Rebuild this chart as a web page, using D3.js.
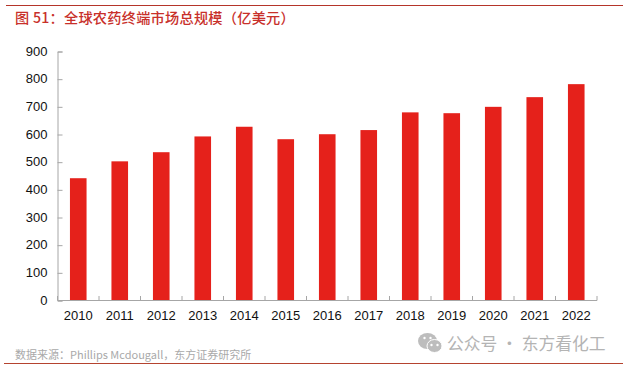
<!DOCTYPE html>
<html><head><meta charset="utf-8">
<script src="https://cdn.jsdelivr.net/npm/d3@7/dist/d3.min.js"></script>
<style>html,body{margin:0;padding:0;background:#fff}svg{display:block}</style></head>
<body><svg id="c" width="623" height="367"></svg>
<script>
const categories=["2010","2011","2012","2013","2014","2015","2016","2017","2018","2019","2020","2021","2022"];
const values=[442,503,536,593,628,583,601,616,680,677,700,735,782];
const yTicks=[0,100,200,300,400,500,600,700,800,900];
const titleText="图 51：全球农药终端市场总规模（亿美元）";
const sourceText="数据来源：Phillips Mcdougall，东方证券研究所";
const watermarkText="公众号 · 东方看化工";
const svg=d3.select("#c");
const cjk='"Noto Sans CJK SC","Noto Sans",sans-serif';
const latin='"Liberation Sans",Arial,sans-serif';
const x=d3.scaleBand().domain(categories).range([57.5,597]).paddingInner(0.6).paddingOuter(0.3);
const y=d3.scaleLinear().domain([0,900]).range([300.5,51.5]);
svg.append("rect").attr("width",623).attr("height",367).attr("fill","#fff");
svg.append("line").attr("x1",6).attr("x2",623).attr("y1",5.5).attr("y2",5.5).attr("stroke","#b5352a").attr("stroke-width",1);
svg.append("text").attr("x",15).attr("y",22.5).attr("font-family",cjk).attr("font-size",14.2).attr("font-weight",500).attr("letter-spacing",0.25).attr("fill","#c8302a").text(titleText);
svg.selectAll("rect.bar").data(values).join("rect").attr("class","bar")
 .attr("x",(d,i)=>x(categories[i])).attr("width",x.bandwidth())
 .attr("y",d=>y(d)).attr("height",d=>y(0)-y(d)).attr("fill","#e5211b");
const ya=d3.axisLeft(y).tickValues(yTicks).tickSize(-5).tickPadding(10);
const gy=svg.append("g").attr("transform","translate(57.5,0)").call(ya);
const xEdges=d3.range(categories.length+1).map(i=>57.5+i*x.step());
const gx=svg.append("g");
gx.append("line").attr("x1",57.5).attr("x2",597).attr("y1",300.5).attr("y2",300.5).attr("stroke","#a6a6a6");
gx.selectAll("line.t").data(xEdges).join("line").attr("class","t").attr("x1",d=>d).attr("x2",d=>d).attr("y1",296).attr("y2",300.5).attr("stroke","#a6a6a6");
gx.selectAll("text").data(categories).join("text").attr("x",d=>x(d)+x.bandwidth()/2).attr("y",320).attr("text-anchor","middle").attr("font-family",latin).attr("font-size",13).attr("fill","#111").text(d=>d);
gy.select(".domain").attr("stroke","#a6a6a6");
gy.selectAll(".tick line").attr("stroke","#a6a6a6");
gy.selectAll(".tick text").attr("font-family",latin).attr("font-size",13).attr("fill","#111").attr("dy","0.27em");
svg.append("text").attr("x",15).attr("y",359).attr("font-family",cjk).attr("font-size",11).attr("fill","#a9a9a9").text(sourceText);
svg.append("line").attr("x1",4).attr("x2",623).attr("y1",363.5).attr("y2",363.5).attr("stroke","#b5432f").attr("stroke-width",1);
const wm=svg.append("g").attr("fill","#bdbdbd");
wm.append("ellipse").attr("cx",427.5).attr("cy",341).attr("rx",9.5).attr("ry",8);
wm.append("ellipse").attr("cx",434.5).attr("cy",346).attr("rx",7.5).attr("ry",6.5).attr("stroke","#fff").attr("stroke-width",1);
wm.selectAll("circle.e").data([[424.5,338],[430.5,338],[431.5,345],[437.5,345]]).join("circle").attr("class","e").attr("cx",d=>d[0]).attr("cy",d=>d[1]).attr("r",1.2).attr("fill","#fff");
svg.append("text").attr("x",447).attr("y",349.5).attr("font-family",cjk).attr("font-size",16.8).attr("fill","#b4b4b4").text(watermarkText);
</script></body></html>
